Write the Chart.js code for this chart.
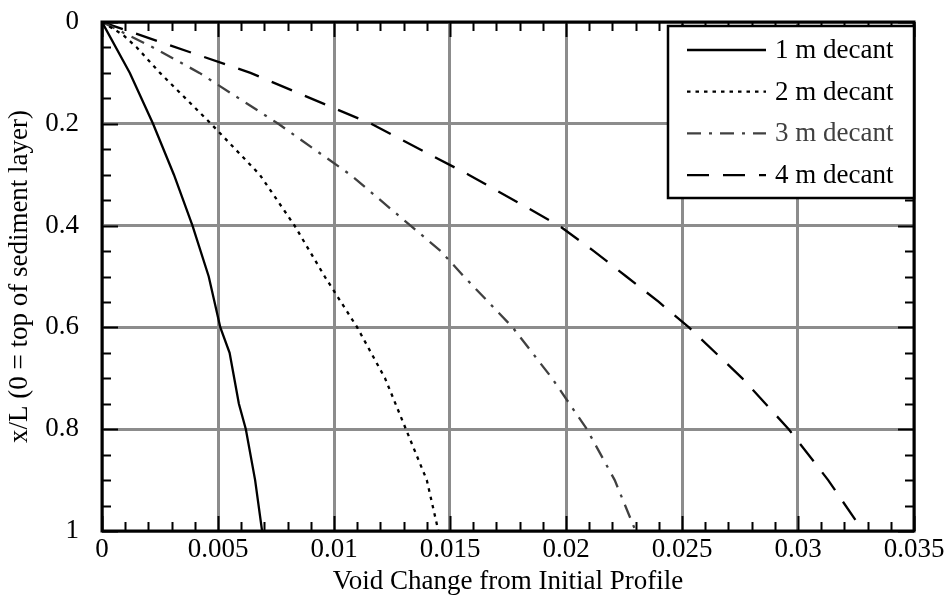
<!DOCTYPE html>
<html>
<head>
<meta charset="utf-8">
<script src="https://cdn.jsdelivr.net/npm/chart.js"></script>
<style>
  body { margin: 0; background: #fff; }
  #profile { display: block; }
</style>
</head>
<body>
<canvas id="profile" width="945" height="599"></canvas>
<script>
// depth (x/L) and void change, one pair of arrays per decant height
var depth1 = [0, 0.1, 0.2, 0.3, 0.4, 0.5, 0.6, 0.65, 0.7, 0.75, 0.8, 0.9, 1.0];
var void1  = [0, 0.0012, 0.0022, 0.0031, 0.0039, 0.0046, 0.0051, 0.0055, 0.0057, 0.0059, 0.0062, 0.0066, 0.0069];

var depth2 = [0, 0.025, 0.05, 0.1, 0.15, 0.2, 0.3, 0.4, 0.5, 0.6, 0.7, 0.8, 0.9, 1.0];
var void2  = [0, 0.0009, 0.0015, 0.0025, 0.0036, 0.0047, 0.0068, 0.0083, 0.0096, 0.0110, 0.0122, 0.0131, 0.0140, 0.0145];

var depth3 = [0, 0.05, 0.1, 0.2, 0.3, 0.4, 0.45, 0.5, 0.6, 0.7, 0.8, 0.9, 1.0];
var void3  = [0, 0.0022, 0.0042, 0.0076, 0.0107, 0.0133, 0.0146, 0.0156, 0.0177, 0.0194, 0.0209, 0.0221, 0.0230];

var depth4 = [0, 0.1, 0.2, 0.3, 0.4, 0.45, 0.5, 0.55, 0.6, 0.7, 0.8, 0.9, 1.0];
var void4  = [0, 0.0064, 0.0116, 0.0158, 0.0197, 0.0212, 0.0226, 0.0240, 0.0253, 0.0276, 0.0296, 0.0313, 0.0328];

var seriesNames = ['1 m decant', '2 m decant', '3 m decant', '4 m decant'];
var xTitle = 'Void Change from Initial Profile';
var yTitle = 'x/L (0 = top of sediment layer)';

var serif = "'Liberation Serif', 'Times New Roman', serif";
Chart.defaults.font.family = serif;
Chart.defaults.font.size = 27;
Chart.defaults.color = '#000';

var styles = [
  { color: '#000', dash: [] },
  { color: '#000', dash: [3.5, 5] },
  { color: '#404040', dash: [14, 8, 3, 8] },
  { color: '#000', dash: [22, 14] }
];

function pairs(xs, ys) {
  return ys.map(function (d, i) { return { x: xs[i], y: d }; });
}

var allData = [pairs(void1, depth1), pairs(void2, depth2), pairs(void3, depth3), pairs(void4, depth4)];

var datasets = allData.map(function (pts, i) {
  return {
    label: seriesNames[i],
    data: pts,
    showLine: true,
    borderColor: styles[i].color,
    borderDash: styles[i].dash,
    borderWidth: 2.3,
    pointRadius: 0,
    tension: 0
  };
});

function fmt(v) {
  return String(parseFloat(Number(v).toFixed(4)));
}

// frame, inward ticks on all four sides and the boxed legend
var framePlugin = {
  id: 'frame',
  afterDraw: function (chart) {
    var c = chart.ctx, a = chart.chartArea;
    var xs = chart.scales.x, ys = chart.scales.y;
    c.save();
    c.strokeStyle = '#000';
    c.lineWidth = 2;
    c.setLineDash([]);
    var v, px, py, len;
    for (var k = 0; k <= 35; k++) {
      v = k * 0.001;
      px = Math.round(xs.getPixelForValue(v)) + 0.5;
      len = (k % 5 === 0) ? 15 : 9;
      c.beginPath();
      c.moveTo(px, a.bottom); c.lineTo(px, a.bottom - len);
      c.moveTo(px, a.top); c.lineTo(px, a.top + len);
      c.stroke();
    }
    for (k = 0; k <= 20; k++) {
      v = k * 0.05;
      py = Math.round(ys.getPixelForValue(v)) + 0.5;
      len = (k % 4 === 0) ? 16 : 9;
      c.beginPath();
      c.moveTo(a.left, py); c.lineTo(a.left + len, py);
      c.moveTo(a.right, py); c.lineTo(a.right - len, py);
      c.stroke();
    }
    c.lineWidth = 3;
    c.strokeRect(a.left, a.top, a.right - a.left, a.bottom - a.top);

    // legend
    var bw = 246, bh = 172;
    var bx = a.right - bw, by = a.top + 4;
    c.fillStyle = '#fff';
    c.fillRect(bx, by, bw, bh);
    c.lineWidth = 2.5;
    c.strokeRect(bx, by, bw, bh);
    c.font = '27px ' + serif;
    c.textBaseline = 'middle';
    c.textAlign = 'left';
    for (var i = 0; i < seriesNames.length; i++) {
      var ry = by + 24 + i * 41.7;
      c.strokeStyle = styles[i].color;
      c.lineWidth = 2.3;
      c.setLineDash(styles[i].dash);
      c.beginPath();
      c.moveTo(bx + 19, ry); c.lineTo(bx + 98, ry);
      c.stroke();
      c.setLineDash([]);
      c.fillStyle = i === 2 ? '#404040' : '#000';
      c.fillText(seriesNames[i], bx + 107, ry + 1);
    }
    c.restore();
  }
};

var ctx = document.getElementById('profile').getContext('2d');
var chart = new Chart(ctx, {
  type: 'scatter',
  data: { datasets: datasets },
  options: {
    responsive: false,
    animation: false,
    devicePixelRatio: 1,
    layout: { padding: { left: 0, top: 22, right: 31, bottom: 0 } },
    plugins: {
      legend: { display: false },
      tooltip: { enabled: false }
    },
    scales: {
      x: {
        type: 'linear',
        min: 0,
        max: 0.035,
        afterFit: function (s) {
          s.height = 68;
          s.paddingLeft = 0;
          s.paddingRight = 0;
        },
        border: { display: false },
        grid: { color: '#8c8c8c', lineWidth: 3, drawTicks: false },
        ticks: {
          stepSize: 0.005,
          padding: 3,
          maxRotation: 0,
          callback: function (v) { return fmt(v); }
        },
        title: { display: true, text: xTitle, padding: { top: 0, bottom: 1 } }
      },
      y: {
        type: 'linear',
        reverse: true,
        min: 0,
        max: 1,
        afterFit: function (s) {
          s.width = 102;
          s.paddingTop = 0;
          s.paddingBottom = 0;
        },
        border: { display: false },
        grid: { color: '#8c8c8c', lineWidth: 3, drawTicks: false },
        ticks: {
          stepSize: 0.2,
          padding: 23,
          callback: function (v) { return fmt(v); }
        },
        title: { display: true, text: yTitle, padding: { top: 4, bottom: 0 } }
      }
    }
  },
  plugins: [framePlugin]
});
</script>
</body>
</html>
